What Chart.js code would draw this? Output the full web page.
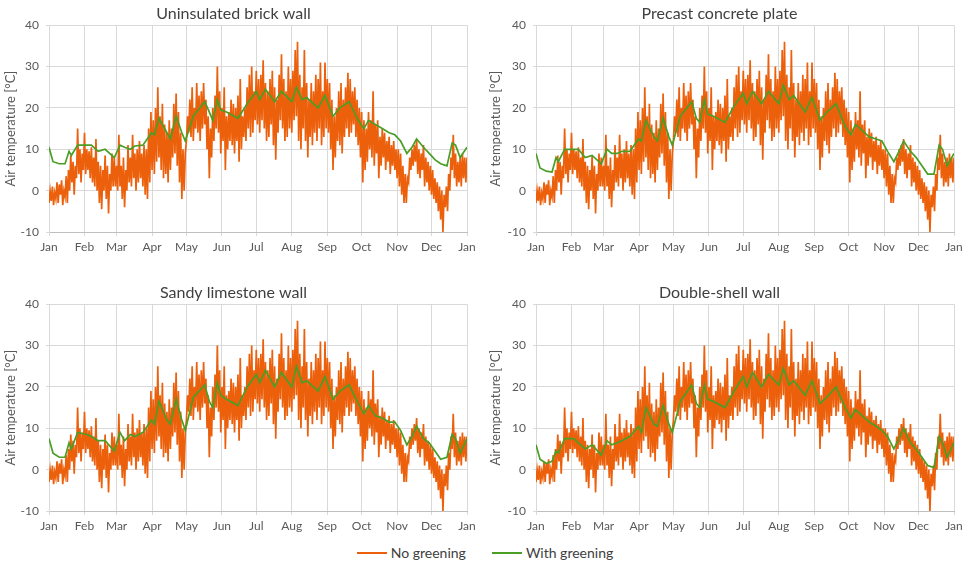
<!DOCTYPE html>
<html lang="en">
<head>
  <meta charset="UTF-8">
  <title>Air temperature with and without greening</title>
  <script src="https://cdn.jsdelivr.net/npm/chart.js"></script>
  <style>
    * { box-sizing: border-box; margin: 0; padding: 0; }
    body {
      background: #fff;
      width: 970px;
      height: 567px;
      position: relative;
      overflow: hidden;
      font-family: 'Lato', sans-serif;
    }
    .panel { position: absolute; width: 485px; height: 262px; }
    .legend {
      position: absolute;
      top: 544px;
      left: 0;
      width: 970px;
      display: flex;
      justify-content: center;
      gap: 26px;
      font-size: 14px;
      color: #404040;
    }
    .legend span { display: flex; align-items: center; }
    .legend i { display: inline-block; width: 30px; height: 2px; margin-right: 4px; }
  </style>
</head>
<body>
  <div class="panel" style="left:0;top:0"><canvas id="c1"></canvas></div>
  <div class="panel" style="left:485px;top:0"><canvas id="c2"></canvas></div>
  <div class="panel" style="left:0;top:279px"><canvas id="c3"></canvas></div>
  <div class="panel" style="left:485px;top:279px"><canvas id="c4"></canvas></div>
  <div class="legend">
    <span><i style="background:#ec600c"></i>No greening</span>
    <span><i style="background:#4a9e26"></i>With greening</span>
  </div>

  <script>
    // x axis: day of year, gridlines at the start of each month
    const MONTH_STARTS = [0, 31, 59, 90, 120, 151, 181, 212, 243, 273, 304, 334, 365];
    const MONTH_LABELS = ['Jan', 'Feb', 'Mar', 'Apr', 'May', 'Jun', 'Jul', 'Aug', 'Sep', 'Oct', 'Nov', 'Dec', 'Jan'];

    // no greening: low / high of each two-day block (same in all panels)
    const ORANGE_LOW = [
      -3, -2.5, -3.5, -2, -3, -1, -3.5, -1.5, -3, 0, 2, -1, 3, 4, 2, 5,
      4, 5, 3, 2, 1, 0, -3, -4.5, 0, -2, -5.5, 0, 1, 1,
      0, 1, -2, -4, 0, 2, 1, 3, 0, 2, 3, 1, -1, -2, 2,
      5, 4, 7, 8, 5, 3, 4, 2, 5, 8, 9, 6, 2, -2, 0,
      12, 14, 13, 12, 15, 14, 12, 15, 16, 10, 3, 8, 12, 15, 14, 9,
      12, 5, 10, 12, 11, 9, 12, 7, 10, 13, 12, 15, 13, 14, 17,
      16, 14, 17, 15, 12, 13, 16, 11, 7.5, 14, 17, 15, 12, 13, 15,
      14, 17, 18, 12, 10, 15, 12, 8, 13, 11, 14, 12, 15, 11, 13, 15,
      14, 10, 5, 8, 12, 11, 9, 13, 15, 13, 14, 16, 13, 11, 8,
      2, 5, 7, 10, 8, 6, 9, 3, 6, 8, 5, 7, 4, 6, 5,
      3, 1, -1, -3, -3, 2, 5, 6, 7, 4, 3, 5, 1, 2, 0,
      -1, -2, -3, -5, -7, -10, -4, -5, 0, 5, 3, 1, 2, 1, 3, 2
    ];
    const ORANGE_HIGH = [
      0, 1, -0.5, 2, 1.5, 2.5, 0, 3.5, 5, 8.5, 7, 6, 15, 10, 9, 14,
      10, 9.5, 10.5, 8, 12.5, 7, 6, 5, 8.5, 6, 4, 9, 8, 6,
      13.5, 6, 8, 5, 11, 8, 13.5, 9, 10, 12, 9, 11, 10, 15, 19,
      17, 20, 25, 18, 21, 16, 14, 17, 15, 21, 23.5, 19, 14, 10, 9,
      18, 22, 25, 20, 26, 23, 24, 26, 22, 18, 15, 20, 23, 30, 24, 20,
      25, 18, 19, 22, 21, 20, 23, 27, 18, 20, 25, 28, 30, 24, 29,
      27, 28, 31.5, 26, 24, 27, 29, 25, 22, 28, 33, 27, 24, 30, 27,
      29, 34, 36, 28, 25, 34, 26, 22, 26, 24, 28, 27, 31, 24, 31, 27,
      26, 22, 18, 20, 24, 26, 22, 25, 28.5, 27, 24, 25, 22, 20, 19,
      17, 15, 19, 17, 24, 16, 17, 13, 15, 14, 12, 13, 11, 12, 10,
      10, 9, 6, 4, 3, 8, 10, 11, 12.5, 10, 9, 11, 8, 7, 6,
      5, 3, 2, 1, 0, -1, 1, 4, 8, 13.5, 9, 7, 8, 9, 8, 8
    ];

    // with greening: values read at these days
    const GREEN_DAYS = [
      0, 3.5, 9, 14, 17.5, 19.5, 25, 33, 37, 43, 49, 57, 62, 66, 71, 75, 82,
      89.5, 92, 96, 103, 106, 111, 116, 119, 126, 136, 140, 143, 147, 150, 155,
      165, 173, 181, 184, 189, 197, 203, 212, 216, 221, 225, 235, 241, 248, 254,
      262, 270, 275, 279, 285, 291, 297, 302, 307, 312.5, 317, 321, 327, 332,
      337, 342, 347.5, 352, 355, 359, 365
    ];
    const GREEN_BRICK = [
      10.5, 7, 6.5, 6.5, 9.5, 8.5, 11, 11, 11, 9.5, 10, 8, 11, 10.5, 10, 10.8, 11,
      14, 13.5, 17.5, 14, 12.5, 18, 14, 12, 18, 21.5, 19, 17, 22, 19.5, 19,
      17.5, 21, 24, 22, 24.5, 21.5, 24, 21.5, 25, 22, 22.5, 20, 23, 18, 20,
      21.5, 17, 15, 17, 16, 15, 14, 13.5, 12, 9, 10.5, 12.5, 10.5, 9,
      7.5, 6.5, 6, 11.5, 11, 8, 10.5
    ];
    const GREEN_CONCRETE = [
      9, 5.5, 4.7, 4.5, 8, 7, 10, 10, 10, 8, 8.5, 6.5, 10, 9, 9, 9.5, 9.5,
      12.5, 12, 17, 13, 12, 17.5, 13, 11, 18, 21.5, 17.5, 16.5, 22, 18.5, 18,
      16.5, 20.5, 23.5, 21, 24, 21, 24, 21, 25.5, 22, 23, 19, 22.5, 17, 19,
      21, 15.5, 13.5, 16, 14.5, 13, 12.5, 12, 9.5, 7, 9.5, 12, 9.5, 8,
      6, 4, 4, 11, 10, 6, 9
    ];
    const GREEN_LIMESTONE = [
      7.5, 4, 3, 3, 6.5, 5, 9, 8.5, 8, 7, 7, 4.5, 9, 7, 8.5, 8, 9,
      12, 11, 16.5, 12, 11, 17, 12, 9.5, 17.5, 20.5, 16.5, 15, 21, 18, 17,
      15.5, 20, 23, 21, 24, 20, 23.5, 20, 25, 21, 21.5, 19, 22.5, 17, 19,
      20.5, 16, 13.5, 15.5, 13, 12.5, 11.5, 11.5, 9.5, 6, 8, 10.5, 7.5, 6.5,
      4.5, 2.5, 3, 8.5, 7.5, 4, 7.5
    ];
    const GREEN_DOUBLE = [
      6, 2.5, 1.5, 2, 4.5, 4, 7.5, 7.5, 6.5, 5, 6, 3.5, 7, 6, 6.5, 7, 8,
      10.5, 9, 15, 11, 10.5, 15.5, 11, 9, 16.5, 20.5, 16, 15, 20.5, 17, 16.5,
      15, 19, 22.5, 20, 23.5, 20, 23, 20.5, 24.5, 20.5, 21.5, 18, 21.5, 16, 17.5,
      20, 15, 12.5, 14.5, 13, 11.5, 10.5, 9.5, 8, 5, 7.5, 10, 6.5, 5,
      3, 1, 0.5, 8, 6.5, 3, 6.5
    ];

    const PANELS = [
      { id: 'c1', title: 'Uninsulated brick wall', green: GREEN_BRICK, left: 49, right: 18 },
      { id: 'c2', title: 'Precast concrete plate', green: GREEN_CONCRETE, left: 51, right: 16 },
      { id: 'c3', title: 'Sandy limestone wall', green: GREEN_LIMESTONE, left: 49, right: 18 },
      { id: 'c4', title: 'Double-shell wall', green: GREEN_DOUBLE, left: 51, right: 16 }
    ];

    const ORANGE = '#ec600c';
    const GREEN = '#4a9e26';
    const TEXT = '#595959';
    const GRID = '#d9d9d9';

    // zigzag: low on even days, high on odd days
    const orangePoints = [];
    ORANGE_LOW.forEach((lo, k) => {
      orangePoints.push({ x: 2 * k, y: lo });
      orangePoints.push({ x: 2 * k + 1, y: ORANGE_HIGH[k] });
    });

    Chart.defaults.font.family = "'Lato', sans-serif";
    Chart.defaults.color = TEXT;

    PANELS.forEach(p => {
      const greenPoints = GREEN_DAYS.map((d, i) => ({ x: d, y: p.green[i] }));
      new Chart(document.getElementById(p.id), {
        type: 'line',
        data: {
          datasets: [
            {
              label: 'With greening',
              data: greenPoints,
              borderColor: GREEN,
              borderWidth: 1.7,
              pointRadius: 0,
              order: 0
            },
            {
              label: 'No greening',
              data: orangePoints,
              borderColor: ORANGE,
              borderWidth: 1.7,
              pointRadius: 0,
              order: 1
            }
          ]
        },
        options: {
          responsive: true,
          maintainAspectRatio: false,
          animation: false,
          layout: { padding: { left: 0, right: p.right, top: 0, bottom: 0 } },
          plugins: {
            legend: { display: false },
            tooltip: { enabled: false },
            title: {
              display: true,
              text: p.title,
              color: '#404040',
              font: { size: 16, weight: 'normal' },
              padding: { top: 4, bottom: 2 }
            }
          },
          scales: {
            x: {
              type: 'linear',
              min: 0,
              max: 365,
              afterBuildTicks: scale => { scale.ticks = MONTH_STARTS.map(v => ({ value: v })); },
              afterFit: scale => { scale.height = 30; },
              ticks: {
                autoSkip: false,
                maxRotation: 0,
                padding: 4,
                font: { size: 12 },
                callback: (v) => MONTH_LABELS[MONTH_STARTS.indexOf(v)]
              },
              grid: { color: GRID, tickLength: 4 },
              border: { color: '#bfbfbf' }
            },
            y: {
              min: -10,
              max: 40,
              afterFit: scale => { scale.width = p.left; },
              ticks: { stepSize: 10, padding: 7, font: { size: 12 } },
              grid: { color: GRID, tickLength: 3 },
              border: { color: GRID },
              title: {
                display: true,
                text: 'Air temperature [°C]',
                font: { size: 13 },
                padding: { top: 3, bottom: 0 }
              }
            }
          }
        }
      });
    });
  </script>
</body>
</html>
